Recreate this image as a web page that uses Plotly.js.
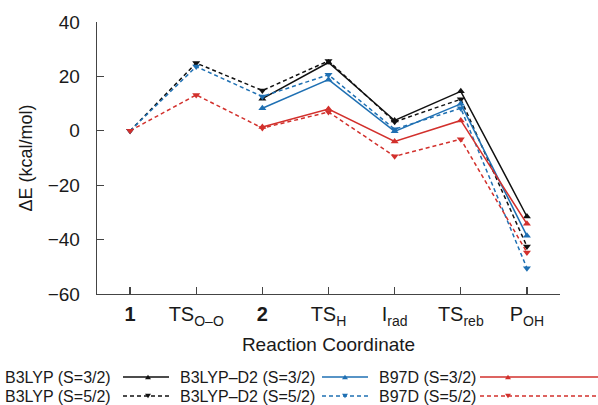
<!DOCTYPE html>
<html><head><meta charset="utf-8">
<script src="https://cdn.plot.ly/plotly-3.0.1.min.js"></script>
<style>html,body{margin:0;padding:0;background:#fff}</style>
</head><body><div id="chart" style="width:598px;height:405px"></div>
<script>
// ---- data ----
const categories = ['1', 'TS_O-O', '2', 'TS_H', 'I_rad', 'TS_reb', 'P_OH'];
const tickLabels = ['<b>1</b>', 'TS<sub>O–O</sub>', '<b>2</b>', 'TS<sub>H</sub>', 'I<sub>rad</sub>', 'TS<sub>reb</sub>', 'P<sub>OH</sub>'];
const seriesNames = ['B3LYP (S=3/2)', 'B3LYP (S=5/2)', 'B3LYP–D2 (S=3/2)', 'B3LYP–D2 (S=5/2)', 'B97D (S=3/2)', 'B97D (S=5/2)'];
const b3lyp_s32   = [null, null, 11.8, 25.1, 3.8, 14.5, -31.5];
const b3lyp_s52   = [0, 24.9, 14.8, 25.7, 3.3, 11.6, -42.5];
const b3lypd2_s32 = [null, null, 8.3, 18.8, -0.2, 9.9, -38.6];
const b3lypd2_s52 = [0, 23.6, 12.6, 20.6, 0.6, 8.3, -50.5];
const b97d_s32    = [null, null, 1.4, 8.0, -3.9, 3.8, -34.2];
const b97d_s52    = [0, 13.2, 1.0, 6.9, -9.4, -3.1, -44.7];
const yTicks = [-60, -40, -20, 0, 20, 40];

// ---- styles ----
const BLACK = '#111111', BLUE = '#1f70b3', RED = '#d2302c';
const DASH = '4px,3px';
const FONT = '"Liberation Sans", Arial, Helvetica, sans-serif';
const TXT = '#1a1a1a';
const series = [
  {y: b3lyp_s32,   color: BLACK, dash: 'solid', sym: 'triangle-up'},
  {y: b3lyp_s52,   color: BLACK, dash: DASH,    sym: 'triangle-down'},
  {y: b3lypd2_s32, color: BLUE,  dash: 'solid', sym: 'triangle-up'},
  {y: b3lypd2_s52, color: BLUE,  dash: DASH,    sym: 'triangle-down'},
  {y: b97d_s32,    color: RED,   dash: 'solid', sym: 'triangle-up'},
  {y: b97d_s52,    color: RED,   dash: DASH,    sym: 'triangle-down'}
];
const traces = series.map((s, i) => ({
  type: 'scatter', mode: 'lines+markers', name: seriesNames[i],
  x: categories, y: s.y, connectgaps: false,
  line: {color: s.color, width: 1.5, dash: s.dash},
  marker: {color: s.color, size: 7, symbol: s.sym},
  showlegend: false
}));

// ---- manual legend (text then sample line, as in the reference) ----
const L = 97, R = 560, T = 22, B = 294;
const px = v => (v - L) / (R - L);
const py = v => (B - v) / (B - T);
const rowsY = [377, 396];
const cols = [
  {tx: 3,   l0: 123, l1: 169, m: 148},
  {tx: 178, l0: 322, l1: 368, m: 345},
  {tx: 377, l0: 480, l1: 600, m: 508}
];
const annotations = [];
const shapes = [];
series.forEach((s, i) => {
  const c = cols[Math.floor(i / 2)];
  const yy = rowsY[i % 2];
  annotations.push({xref: 'paper', yref: 'paper', x: px(c.tx), y: py(yy), xanchor: 'left', yanchor: 'middle',
    text: seriesNames[i], showarrow: false, font: {family: FONT, size: 16, color: TXT}});
  shapes.push({type: 'line', xref: 'paper', yref: 'paper', x0: px(c.l0), x1: px(c.l1), y0: py(yy), y1: py(yy),
    line: {color: s.color, width: 1.3, dash: s.dash}});
  const w = 3, h = 4.5;
  const up = s.sym === 'triangle-up';
  const path = up
    ? `M ${px(c.m - w)} ${py(yy + h/2)} L ${px(c.m + w)} ${py(yy + h/2)} L ${px(c.m)} ${py(yy - h/2)} Z`
    : `M ${px(c.m - w)} ${py(yy - h/2)} L ${px(c.m + w)} ${py(yy - h/2)} L ${px(c.m)} ${py(yy + h/2)} Z`;
  shapes.push({type: 'path', xref: 'paper', yref: 'paper', path: path, fillcolor: s.color, line: {width: 0}});
});

const layout = {
  width: 598, height: 405,
  margin: {l: L, r: 598 - R, t: T, b: 405 - B},
  paper_bgcolor: '#fff', plot_bgcolor: '#fff',
  font: {family: FONT, size: 18, color: TXT},
  showlegend: false,
  xaxis: {
    type: 'category', range: [-0.5, 6.5], tickvals: categories, ticktext: tickLabels,
    showline: true, linecolor: '#444', linewidth: 1.3, showgrid: false, zeroline: false,
    ticks: 'inside', ticklen: 7, tickcolor: '#444', tickwidth: 1.2,
    tickfont: {family: FONT, size: 20, color: TXT}, ticklabelstandoff: 2,
    title: {text: 'Reaction Coordinate', font: {family: FONT, size: 19, color: TXT}, standoff: 10}
  },
  yaxis: {
    range: [-60, 40], tickvals: yTicks,
    showline: true, linecolor: '#444', linewidth: 1.3, showgrid: false, zeroline: false,
    ticks: 'inside', ticklen: 7, tickcolor: '#444', tickwidth: 1.2,
    tickfont: {family: FONT, size: 19, color: TXT}, ticklabelstandoff: 12,
    title: {text: 'ΔE (kcal/mol)', font: {family: FONT, size: 18, color: TXT}, standoff: 10}
  },
  annotations: annotations,
  shapes: shapes
};
Plotly.newPlot('chart', traces, layout, {displayModeBar: false, staticPlot: true});
</script></body></html>
